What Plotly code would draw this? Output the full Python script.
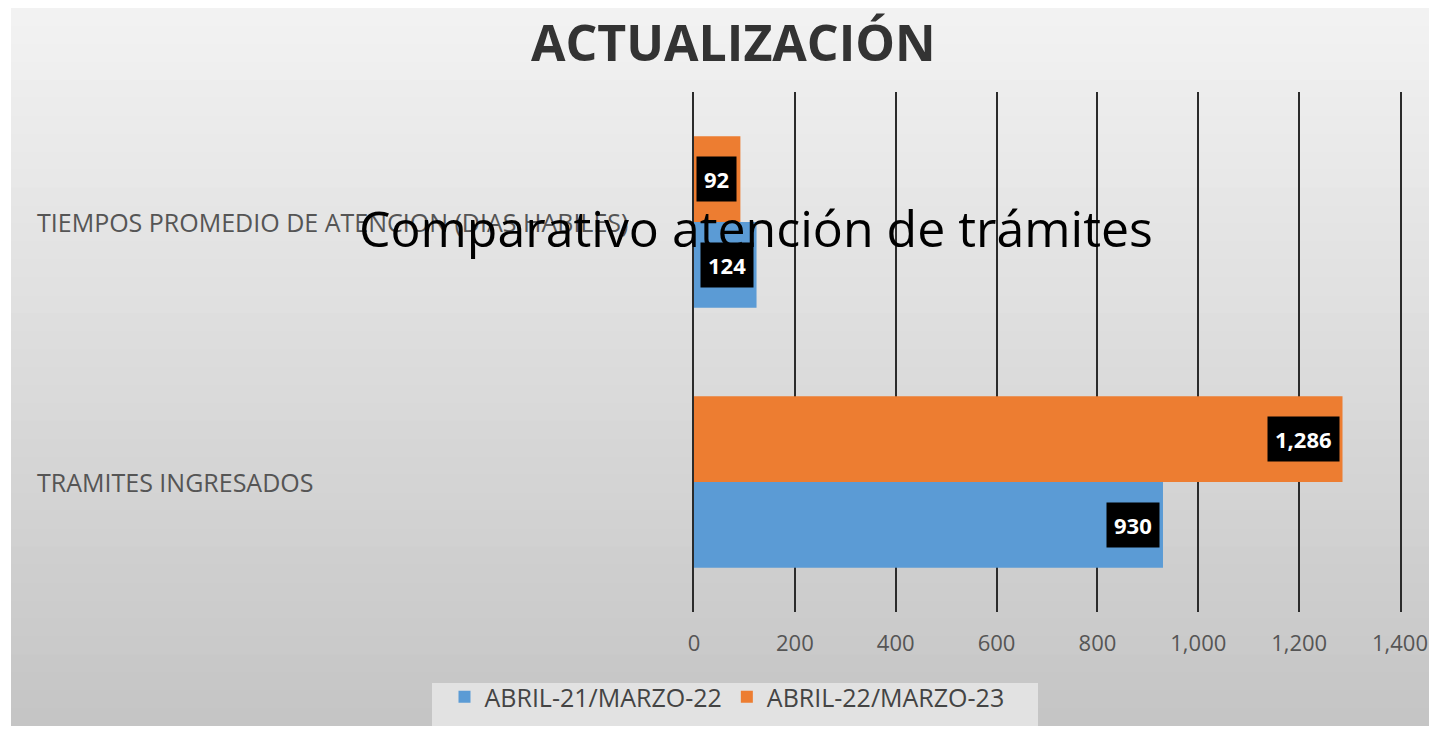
import plotly.graph_objects as go

W, H = 1437, 734          # browser window
M = 8                     # default page margin of the browser body
FW, FH = W - 2 * M, H - 2 * M

def px(x):  # window pixel -> paper x
    return (x - M) / FW

def py(y):  # window pixel -> paper y
    return 1 - (y - M) / FH

categories = ["TRAMITES INGRESADOS", "TIEMPOS PROMEDIO DE ATENCION (DIAS HABILES)"]
series_names = ["ABRIL-21/MARZO-22", "ABRIL-22/MARZO-23"]
values_2122 = [930, 124]
values_2223 = [1286, 92]
tick_vals = [0, 200, 400, 600, 800, 1000, 1200, 1400]
tick_text = ["0", "200", "400", "600", "800", "1,000", "1,200", "1,400"]

colors = ["#5b9bd5", "#ed7d31"]
FONT = "Open Sans"

fig = go.Figure()
for name, vals, col in zip(series_names, [values_2122, values_2223], colors):
    fig.add_trace(go.Bar(
        y=categories, x=vals, name=name, orientation="h",
        marker=dict(color=col, line=dict(width=0)),
    ))

# background gradient (approximated by stripes)
shapes = []
n = 40
top = (242, 242, 242)
bot = (197, 197, 197)
for i in range(n):
    t = i / (n - 1)
    c = tuple(int(round(top[k] + (bot[k] - top[k]) * t)) for k in range(3))
    y_top = M + FH * i / n
    y_bot = min(H, M + FH * (i + 1) / n + 1)
    shapes.append(dict(type="rect", xref="paper", yref="paper", layer="below",
                       x0=px(11), x1=1, y0=max(0, py(y_bot)), y1=py(y_top),
                       fillcolor="rgb(%d,%d,%d)" % c, line=dict(width=0)))
# legend box
shapes.append(dict(type="rect", xref="paper", yref="paper", layer="below",
                   x0=px(432), x1=px(1038), y0=0, y1=py(683),
                   fillcolor="#e2e2e2", line=dict(width=0)))

annotations = []
# data labels
for vals, ys in [(values_2122, -43), (values_2223, 43)]:
    for cat, v in zip(categories, vals):
        annotations.append(dict(
            x=v, y=cat, xref="x", yref="y", text="<b>{:,}</b>".format(v),
            showarrow=False, xanchor="right", yanchor="middle", xshift=-3, yshift=ys,
            bgcolor="black", borderpad=7,
            font=dict(family=FONT, size=22, color="white", weight=800),
        ))
# category labels (left aligned)
for cat in categories:
    annotations.append(dict(
        x=px(35), y=cat, xref="paper", yref="y", text=cat, showarrow=False,
        xanchor="left", yanchor="middle",
        font=dict(family=FONT, size=25, color="#555555"),
    ))
# headings
annotations.append(dict(
    x=px(733), y=py(42), xref="paper", yref="paper", text="<b>ACTUALIZACIÓN</b>",
    showarrow=False, xanchor="center", yanchor="middle",
    font=dict(family=FONT, size=50, color="#333333", weight=800),
))
annotations.append(dict(
    x=px(756), y=py(228), xref="paper", yref="paper",
    text="Comparativo atención de trámites",
    showarrow=False, xanchor="center", yanchor="middle",
    font=dict(family=FONT, size=50, color="black"),
))

fig.update_layout(
    width=FW, height=FH,
    margin=dict(l=0, r=0, t=0, b=0, autoexpand=False),
    paper_bgcolor="white", plot_bgcolor="rgba(0,0,0,0)",
    barmode="group", bargap=0.34, bargroupgap=0,
    shapes=shapes, annotations=annotations,
    showlegend=True,
    legend=dict(orientation="h", x=px(727), y=py(697), xanchor="center", yanchor="middle",
                bgcolor="rgba(0,0,0,0)", font=dict(family=FONT, size=25, color="#444444"),
                traceorder="normal", itemwidth=30),
    xaxis=dict(domain=[px(694), px(1400)], range=[0, 1400], tickvals=tick_vals, ticktext=tick_text,
               showgrid=True, gridcolor="#2b2b2b", gridwidth=2, zeroline=False,
               showline=False, ticks="", ticklabelstandoff=16, ticklabeloverflow="allow",
               automargin=False,
               tickfont=dict(family=FONT, size=22, color="#555555")),
    yaxis=dict(domain=[py(612), py(92)], showticklabels=False, showgrid=False, automargin=False,
               zeroline=False, showline=True, mirror=True, linecolor="#2b2b2b", linewidth=2,
               categoryorder="array", categoryarray=categories),
)

fig.write_html("out.html", config={"displayModeBar": False})
